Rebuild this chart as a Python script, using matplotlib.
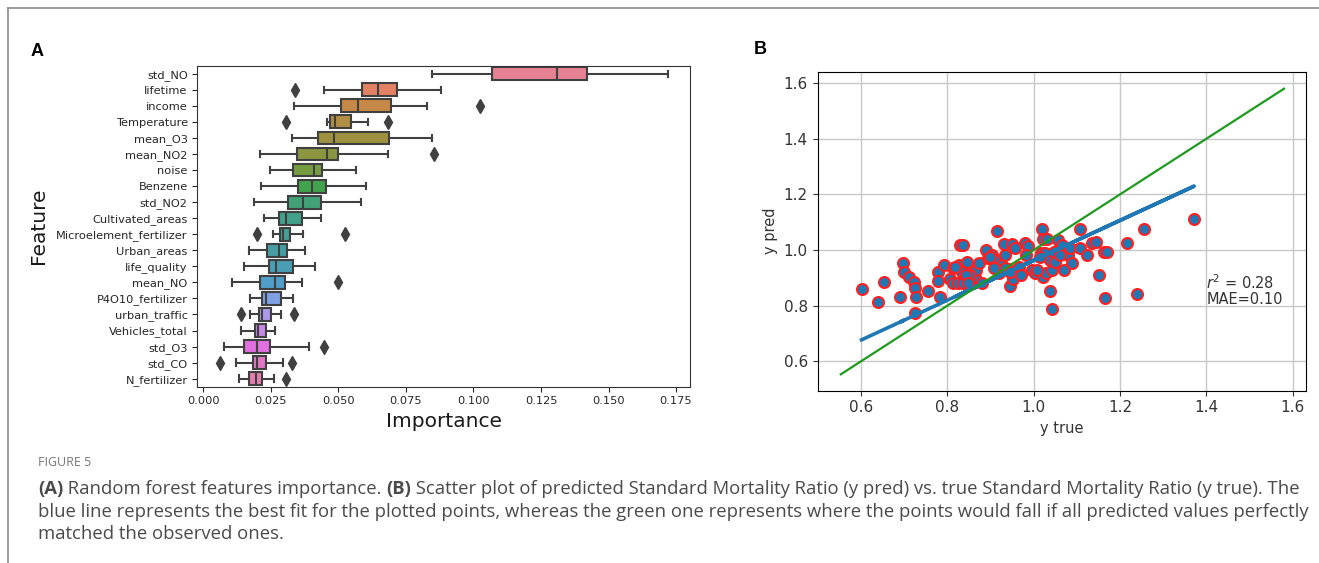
import numpy as np
import matplotlib.pyplot as plt
import seaborn as sns
from matplotlib.lines import Line2D
from matplotlib.transforms import IdentityTransform

# --- data: panel A (feature importance boxes) ---
features = ["std_NO", "lifetime", "income", "Temperature", "mean_O3", "mean_NO2",
            "noise", "Benzene", "std_NO2", "Cultivated_areas", "Microelement_fertilizer",
            "Urban_areas", "life_quality", "mean_NO", "P4O10_fertilizer", "urban_traffic",
            "Vehicles_total", "std_O3", "std_CO", "N_fertilizer"]
whis_lo = [0.0848, 0.0447, 0.0337, 0.0458, 0.0329, 0.0210, 0.0245, 0.0214, 0.0188, 0.0225,
           0.0256, 0.0167, 0.0152, 0.0105, 0.0174, 0.0173, 0.0138, 0.0075, 0.0119, 0.0133]
q1 = [0.1070, 0.0589, 0.0510, 0.0468, 0.0424, 0.0345, 0.0331, 0.0352, 0.0315, 0.0280,
      0.0284, 0.0237, 0.0243, 0.0211, 0.0217, 0.0207, 0.0190, 0.0150, 0.0183, 0.0167]
med = [0.1309, 0.0647, 0.0572, 0.0488, 0.0484, 0.0457, 0.0410, 0.0401, 0.0368, 0.0306,
       0.0296, 0.0281, 0.0268, 0.0266, 0.0232, 0.0217, 0.0204, 0.0200, 0.0198, 0.0196]
q3 = [0.1420, 0.0716, 0.0695, 0.0546, 0.0689, 0.0498, 0.0438, 0.0454, 0.0435, 0.0366,
      0.0322, 0.0310, 0.0330, 0.0303, 0.0289, 0.0252, 0.0232, 0.0247, 0.0231, 0.0217]
whis_hi = [0.1720, 0.0880, 0.0827, 0.0611, 0.0848, 0.0684, 0.0566, 0.0601, 0.0585, 0.0436,
           0.0368, 0.0378, 0.0414, 0.0364, 0.0333, 0.0289, 0.0264, 0.0390, 0.0295, 0.0263]
outliers = [[], [0.0340], [0.1025], [0.0304, 0.0685], [], [0.0855], [], [], [], [],
            [0.0198, 0.0526], [], [], [0.0500], [], [0.0141, 0.0337], [], [0.0447],
            [0.0061, 0.0327], [0.0304]]

# --- data: panel B (predicted vs true SMR) ---
y_true = [0.601, 0.638, 0.652, 0.696, 0.699, 0.691, 0.710, 0.722, 0.726, 0.727,
          0.726, 0.756, 0.779, 0.779, 0.783, 0.793, 0.805, 0.814, 0.814, 0.825,
          0.830, 0.837, 0.828, 0.833, 0.844, 0.852, 0.859, 0.863, 0.866, 0.874,
          0.879, 0.889, 0.895, 0.903, 0.915, 0.910, 0.919, 0.927, 0.932, 0.934,
          0.943, 0.949, 0.956, 0.946, 0.953, 0.965, 0.970, 0.979, 0.987, 0.983,
          0.996, 1.004, 1.020, 1.021, 1.030, 1.017, 1.026, 1.021, 1.028, 1.037,
          1.043, 1.043, 1.037, 1.047, 1.056, 1.060, 1.070, 1.066, 1.079, 1.085,
          1.088, 1.107, 1.107, 1.124, 1.136, 1.145, 1.151, 1.162, 1.169, 1.165,
          1.216, 1.239, 1.256, 1.372,
          0.845, 0.853, 0.837, 0.899, 0.907, 0.934, 0.946, 1.008, 1.015, 1.049,
          1.062, 0.818, 0.842, 0.848]
y_pred = [0.859, 0.812, 0.885, 0.952, 0.922, 0.832, 0.904, 0.885, 0.862, 0.832,
          0.775, 0.854, 0.922, 0.888, 0.832, 0.945, 0.897, 0.936, 0.880, 0.880,
          1.017, 1.017, 0.945, 0.922, 0.904, 0.922, 0.880, 0.902, 0.928, 0.954,
          0.882, 1.000, 0.971, 0.982, 1.070, 0.964, 0.916, 0.946, 1.020, 0.982,
          0.930, 1.020, 1.006, 0.871, 0.897, 0.940, 0.910, 1.026, 1.014, 0.982,
          0.928, 0.916, 1.074, 1.038, 1.038, 0.988, 0.988, 0.902, 0.916, 0.854,
          0.789, 0.928, 0.964, 0.994, 1.036, 0.994, 0.928, 1.018, 0.982, 1.006,
          0.954, 1.074, 1.006, 0.982, 1.026, 1.030, 0.910, 0.994, 0.994, 0.826,
          1.026, 0.841, 1.074, 1.112,
          0.958, 0.910, 0.880, 0.976, 0.934, 0.934, 0.922, 0.928, 0.976, 0.958,
          0.982, 0.940, 0.910, 0.880]
fit_slope, fit_intercept = 0.717, 0.246
identity_range = [0.553, 1.580]
r2_value, mae_value = 0.28, 0.10

caption_head = "FIGURE 5"
caption_lines = [
    [("(A)", "bold"), (" Random forest features importance. ", "normal"), ("(B)", "bold"),
     (" Scatter plot of predicted Standard Mortality Ratio (y pred) vs. true Standard Mortality Ratio (y true). The", "normal")],
    [("blue line represents the best fit for the plotted points, whereas the green one represents where the points would fall if all predicted values perfectly", "normal")],
    [("matched the observed ones.", "normal")],
]

W, H = 1319, 563
fig = plt.figure(figsize=(W / 100, H / 100), dpi=100)
gray = "0.25"

# --- panel A ---
axA = fig.add_axes([0.1497, 0.3131, 0.3735, 0.5702])
stats = []
for i, name in enumerate(features):
    stats.append(dict(label=name, whislo=whis_lo[i], q1=q1[i], med=med[i],
                      q3=q3[i], whishi=whis_hi[i], fliers=outliers[i]))
colors = sns.color_palette("husl", len(features), desat=0.75)
bp = axA.bxp(stats, positions=range(len(features)), widths=0.8, orientation="horizontal",
             patch_artist=True,
             boxprops=dict(edgecolor=gray, linewidth=1.5),
             medianprops=dict(color=gray, linewidth=1.5),
             whiskerprops=dict(color=gray, linewidth=1.5),
             capprops=dict(color=gray, linewidth=1.5),
             flierprops=dict(marker="d", markerfacecolor=gray, markeredgecolor=gray,
                             markersize=7.5))
for patch, c in zip(bp["boxes"], colors):
    patch.set_facecolor(c)
axA.set_ylim(len(features) - 0.5, -0.5)
axA.set_xlim(-0.0022, 0.1802)
axA.set_xticks(np.arange(0, 0.176, 0.025))
axA.xaxis.set_major_formatter(plt.FormatStrFormatter("%.3f"))
axA.tick_params(labelsize=8.2, colors="0.15")
axA.set_xlabel("Importance", fontsize=14.5, color="0.1")
axA.set_ylabel("Feature", fontsize=14.5, color="0.1", labelpad=6)
for s in axA.spines.values():
    s.set_color("0.2")

# --- panel B ---
axB = fig.add_axes([0.6198, 0.3060, 0.3707, 0.5666])
axB.grid(True, color="#c8c8c8", linewidth=1.0)
axB.set_axisbelow(True)
xt = np.array(y_true)
axB.scatter(y_true, y_pred, s=62, c="#1f77b4", edgecolors="#ff2020", linewidths=1.5, zorder=3)
axB.plot(xt, fit_slope * xt + fit_intercept, color="#1f77b4", linewidth=2.6, zorder=4)
axB.plot(identity_range, identity_range, color="#1f9a1f", linewidth=1.6, zorder=4)
axB.set_xlim(0.499, 1.632)
axB.set_ylim(0.494, 1.641)
axB.set_xticks([0.6, 0.8, 1.0, 1.2, 1.4, 1.6])
axB.set_yticks([0.6, 0.8, 1.0, 1.2, 1.4, 1.6])
axB.tick_params(labelsize=11, colors="0.2")
axB.set_xlabel("y true", fontsize=10.5, color="0.2")
axB.set_ylabel("y pred", fontsize=10.5, color="0.2")
axB.text(1.40, 0.795, "$r^2$ = %.2f\nMAE=%.2f" % (r2_value, mae_value), fontsize=10.5,
         color="0.2", ha="left", va="bottom", linespacing=1.0)

# panel letters
fig.text(37 / W, 1 - 52 / H, "A", fontsize=13, fontweight="bold",
         family="Liberation Sans", ha="center", va="center")
fig.text(760 / W, 1 - 49 / H, "B", fontsize=13, fontweight="bold",
         family="Liberation Sans", ha="center", va="center")

# page frame
fig.add_artist(Line2D([7.5 / W, 7.5 / W], [0, 1 - 7.5 / H], color="#8c8c8c", linewidth=1.2))
fig.add_artist(Line2D([7.5 / W, 1], [1 - 7.5 / H, 1 - 7.5 / H], color="#8c8c8c", linewidth=1.2))

# caption
fig.text(38 / W, 1 - 463 / H, caption_head, fontsize=9, color="#777777",
         family="Open Sans", va="center")
renderer = fig.canvas.get_renderer()
base_y = [494, 517, 539]
for line, yy in zip(caption_lines, base_y):
    x = 38
    for txt, weight in line:
        t = fig.text(x, H - yy, txt, transform=IdentityTransform(), fontsize=13.3,
                     family="Open Sans", fontweight=weight, color="#4a4a4a", va="baseline")
        x = t.get_window_extent(renderer).x1

fig.savefig("out.png", dpi=100)
